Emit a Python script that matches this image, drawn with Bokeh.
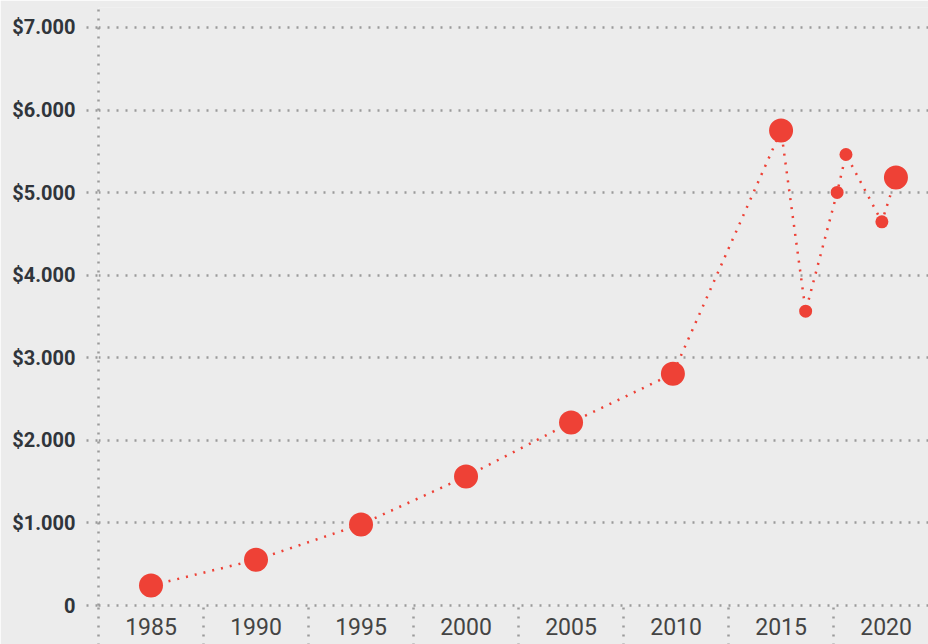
from bokeh.plotting import figure
from bokeh.models import FixedTicker, ColumnDataSource, Range1d
from bokeh.embed import file_html
from bokeh.resources import INLINE

# ---- data ----
years = [1985, 1990, 1995, 2000, 2005, 2009.85, 2015, 2016.17, 2017.67, 2018.09, 2019.8, 2020.47]
values = [242, 553, 981, 1562, 2216, 2806, 5753, 3564, 5002, 5462, 4647, 5183]
kinds = ["annual"] * 7 + ["partial"] * 4 + ["annual"]
x_ticks = [1985, 1990, 1995, 2000, 2005, 2010, 2015, 2020]
y_ticks = [0, 1000, 2000, 3000, 4000, 5000, 6000, 7000]
y_labels = ["0", "$1.000", "$2.000", "$3.000", "$4.000", "$5.000", "$6.000", "$7.000"]

# ---- styles ----
BG = "#ececec"
RED = "#ee4136"
GRID = "#9a9a9a"
size_map = {"annual": 24, "partial": 13}

src = ColumnDataSource(dict(x=years, y=values, s=[size_map[k] for k in kinds]))

p = figure(width=928, height=644, output_backend="svg", toolbar_location=None,
           x_range=Range1d(1982.5, 2022.02), y_range=Range1d(0, 7242),
           background_fill_color=BG, border_fill_color=BG,
           min_border_left=98, min_border_right=0, min_border_top=7, min_border_bottom=39)
p.outline_line_color = None

p.line("x", "y", source=src, line_color=RED, line_width=2.5, line_dash="2 7")
p.scatter("x", "y", source=src, size="s", fill_color=RED, line_color=None)

# x axis
half = [t - 2.5 for t in x_ticks] + [x_ticks[-1] + 2.5]
p.xaxis.ticker = FixedTicker(ticks=x_ticks, minor_ticks=half)
p.xaxis.major_tick_out = 0
p.xaxis.major_tick_in = 0
p.xaxis.minor_tick_in = 0
p.xaxis.minor_tick_out = 40
p.xaxis.minor_tick_line_color = GRID
p.xaxis.minor_tick_line_width = 2.5
p.xaxis.minor_tick_line_dash = "2 7"
p.xaxis.axis_line_color = GRID
p.xaxis.axis_line_width = 2.5
p.xaxis.axis_line_dash = "2 7"
p.xaxis.major_label_text_font = "Roboto"
p.xaxis.major_label_text_font_size = "23px"
p.xaxis.major_label_text_color = "#444444"
p.xaxis.major_label_standoff = -28
p.xgrid.grid_line_color = None

# y axis
p.yaxis.ticker = FixedTicker(ticks=y_ticks, minor_ticks=[])
p.yaxis.major_label_overrides = {t: l for t, l in zip(y_ticks, y_labels)}
p.yaxis.major_tick_out = 12
p.yaxis.major_tick_in = 0
p.yaxis.major_tick_line_color = GRID
p.yaxis.major_tick_line_width = 2.5
p.yaxis.major_tick_line_dash = "2 7"
p.yaxis.axis_line_color = GRID
p.yaxis.axis_line_width = 2.5
p.yaxis.axis_line_dash = "2 7"
p.yaxis.major_label_text_font = "Roboto"
p.yaxis.major_label_text_font_style = "bold"
p.yaxis.major_label_text_font_size = "20px"
p.yaxis.major_label_text_color = "#30353b"
p.yaxis.major_label_standoff = 11
p.ygrid.grid_line_color = GRID
p.ygrid.grid_line_width = 2.5
p.ygrid.grid_line_dash = "2 7"

open("out.html", "w").write(file_html(p, INLINE))
